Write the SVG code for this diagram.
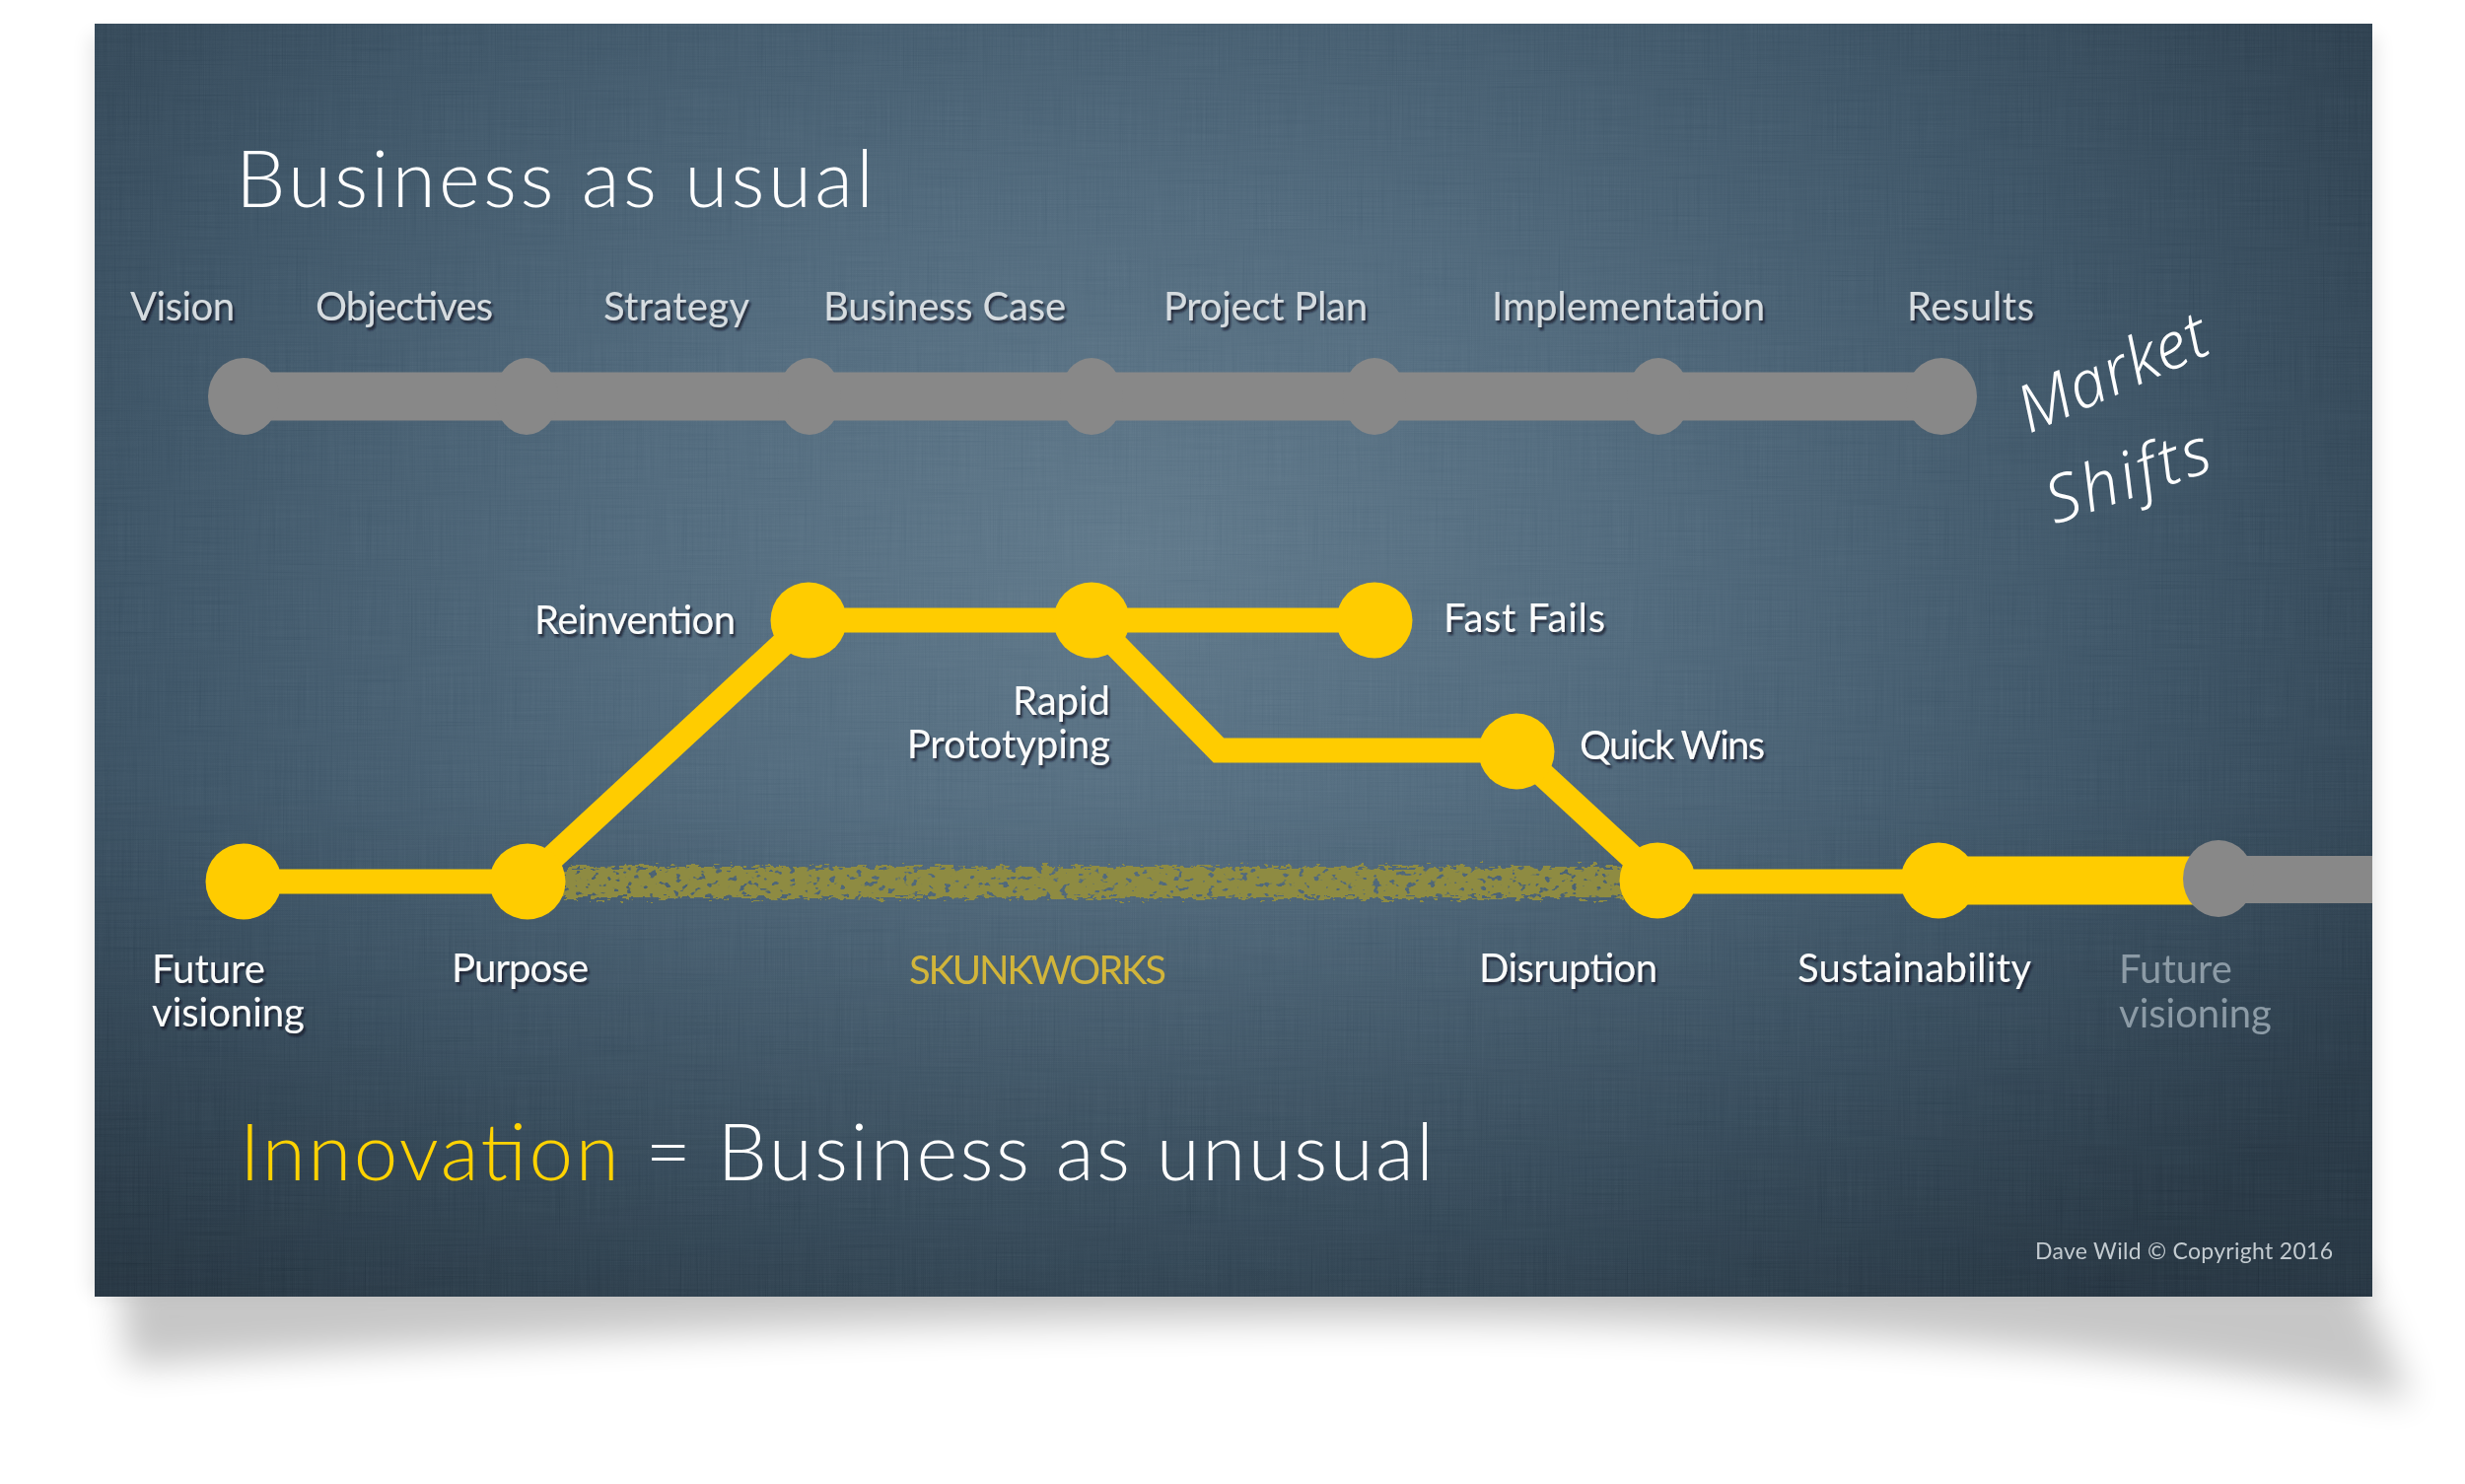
<svg xmlns="http://www.w3.org/2000/svg" width="2500" height="1505" viewBox="0 0 2500 1505">
  <defs>
    <radialGradient id="bg" cx="1150" cy="560" r="1450" gradientUnits="userSpaceOnUse" gradientTransform="translate(1150 560) scale(1 0.7) translate(-1150 -560)">
      <stop offset="0" stop-color="#5c7587"/>
      <stop offset="0.35" stop-color="#4d6679"/>
      <stop offset="0.7" stop-color="#3a5163"/>
      <stop offset="1" stop-color="#2b3d4c"/>
    </radialGradient>
    <linearGradient id="shade" x1="0" y1="0" x2="0" y2="1">
      <stop offset="0" stop-color="#000" stop-opacity="0"/>
      <stop offset="0.6" stop-color="#000" stop-opacity="0"/>
      <stop offset="1" stop-color="#000" stop-opacity="0.18"/>
    </linearGradient>
    <filter id="linen" x="0" y="0" width="100%" height="100%">
      <feTurbulence type="fractalNoise" baseFrequency="0.8 0.012" numOctaves="2" seed="2" result="v"/>
      <feTurbulence type="fractalNoise" baseFrequency="0.012 0.8" numOctaves="2" seed="5" result="h"/>
      <feBlend in="v" in2="h" mode="multiply" result="b"/>
      <feColorMatrix in="b" type="matrix" values="0.33 0.33 0.33 0 0  0.33 0.33 0.33 0 0  0.33 0.33 0.33 0 0  0 0 0 0 1"/>
    </filter>
    <filter id="blurBig" x="-10%" y="-50%" width="120%" height="200%">
      <feGaussianBlur stdDeviation="18"/>
    </filter>
    <filter id="blurSide" x="-10%" y="-10%" width="120%" height="120%">
      <feGaussianBlur stdDeviation="10"/>
    </filter>
    <filter id="shadow" x="-10%" y="-30%" width="120%" height="160%">
      <feDropShadow dx="2" dy="3" stdDeviation="1.2" flood-color="#0b1620" flood-opacity="0.75"/>
    </filter>
    <filter id="rough" x="-3%" y="-60%" width="106%" height="220%">
      <feTurbulence type="fractalNoise" baseFrequency="0.09 0.3" numOctaves="3" seed="3" result="n"/>
      <feDisplacementMap in="SourceGraphic" in2="n" scale="16" xChannelSelector="R" yChannelSelector="G" result="d"/>
      <feTurbulence type="fractalNoise" baseFrequency="0.12 0.18" numOctaves="2" seed="9" result="sp"/>
      <feColorMatrix in="sp" type="matrix" values="0 0 0 0 0  0 0 0 0 0  0 0 0 0 0  -14 0 0 0 9.6" result="mask"/>
      <feComposite in="d" in2="mask" operator="in"/>
    </filter>
    <style>
      .top { font-family: Lato, "Open Sans", sans-serif; font-size: 40px; fill: #d6dce0; }
      .lbl { font-family: Lato, "Open Sans", sans-serif; font-size: 40px; fill: #fafbfb; }
      .dim { font-family: Lato, "Open Sans", sans-serif; font-size: 40px; fill: #8c9ba6; }
      .big { font-family: Lato, "Open Sans", sans-serif; font-size: 80px; font-weight: 300; fill: #ffffff; }
      .hand { font-family: "Noto Sans", sans-serif; font-style: italic; font-weight: 300; font-size: 66px; fill: #ffffff; }
      .ydot { fill: #ffcc00; }
      .gdot { fill: #888888; }
      .yl { stroke: #ffcc00; stroke-width: 25; fill: none; stroke-linejoin: miter; }
      .gl { stroke: #888888; stroke-width: 49; fill: none; }
    </style>
  </defs>

  <!-- page -->
  <rect x="0" y="0" width="2500" height="1505" fill="#ffffff"/>
  <!-- slide shadows -->
  <rect x="92" y="36" width="2318" height="1276" fill="#000" opacity="0.1" filter="url(#blurSide)"/>
  <path d="M 120 1290 L 2390 1290 L 2445 1420 Q 2100 1350 1500 1340 Q 800 1334 130 1385 Z" fill="#000" opacity="0.22" filter="url(#blurBig)"/>

  <!-- slide -->
  <g id="slide">
    <rect x="96" y="24" width="2310" height="1291" fill="url(#bg)"/>
    <rect x="96" y="24" width="2310" height="1291" fill="url(#shade)"/>
    <rect x="96" y="24" width="2310" height="1291" filter="url(#linen)" opacity="0.3" style="mix-blend-mode:soft-light"/>
  </g>

  <!-- titles -->
  <text id="title" class="big" x="239" y="210" textLength="647">Business as usual</text>
  <text id="subtitle" class="big" x="243" y="1197" textLength="1211"><tspan fill="#ffd200">Innovation</tspan> = Business as unusual</text>
  <text id="copyright" x="2366" y="1277" text-anchor="end" font-family="Lato, 'Open Sans', sans-serif" font-size="23" fill="#c3cbd0" textLength="302">Dave Wild © Copyright 2016</text>

  <!-- skunkworks band -->
  <g id="skunkworks">
    <rect x="572" y="879" width="1078" height="32" fill="#8e8b42" filter="url(#rough)"/>
    <text x="922" y="998" font-family="Lato, 'Open Sans', sans-serif" font-size="40" fill="#d2b53a" textLength="261">SKUNKWORKS</text>
  </g>

  <!-- connectors -->
  <g id="connectors">
    <line class="gl" x1="247" y1="402" x2="1969" y2="402"/>
    <line class="yl" x1="247" y1="894" x2="534" y2="894"/>
    <line class="yl" x1="534" y1="894" x2="820" y2="629"/>
    <line class="yl" x1="820" y1="629" x2="1107" y2="629"/>
    <line class="yl" x1="1107" y1="629" x2="1394" y2="629"/>
    <polyline class="yl" points="1107,629 1236,761 1538,761"/>
    <line class="yl" x1="1538" y1="761" x2="1681" y2="893"/>
    <line class="yl" x1="1681" y1="894" x2="1966" y2="894"/>
    <line x1="1966" y1="893" x2="2250" y2="893" stroke="#ffcc00" stroke-width="49"/>
    <line x1="2250" y1="892" x2="2406" y2="892" stroke="#888888" stroke-width="48"/>
  </g>

  <!-- business-as-usual nodes -->
  <g id="vision"><ellipse class="gdot" cx="247" cy="402" rx="36" ry="39"/><text class="top" x="132" y="325" filter="url(#shadow)" textLength="106">Vision</text></g>
  <g id="objectives"><ellipse class="gdot" cx="534" cy="402" rx="32" ry="39"/><text class="top" x="320" y="325" filter="url(#shadow)" textLength="180">Objectives</text></g>
  <g id="strategy"><ellipse class="gdot" cx="821" cy="402" rx="32" ry="39"/><text class="top" x="612" y="325" filter="url(#shadow)" textLength="148">Strategy</text></g>
  <g id="business-case"><ellipse class="gdot" cx="1107" cy="402" rx="32" ry="39"/><text class="top" x="835" y="325" filter="url(#shadow)" textLength="246">Business Case</text></g>
  <g id="project-plan"><ellipse class="gdot" cx="1394" cy="402" rx="32" ry="39"/><text class="top" x="1180" y="325" filter="url(#shadow)" textLength="207">Project Plan</text></g>
  <g id="implementation"><ellipse class="gdot" cx="1682" cy="402" rx="32" ry="39"/><text class="top" x="1513" y="325" filter="url(#shadow)" textLength="277">Implementation</text></g>
  <g id="results"><ellipse class="gdot" cx="1969" cy="402" rx="36" ry="39"/><text class="top" x="1934" y="325" filter="url(#shadow)" textLength="129">Results</text></g>

  <!-- innovation nodes -->
  <g id="future-visioning"><circle class="ydot" cx="247" cy="894" r="38.5"/><text class="lbl" x="154" y="997" filter="url(#shadow)">Future<tspan x="154" y="1041">visioning</tspan></text></g>
  <g id="purpose"><circle class="ydot" cx="535" cy="894" r="38.5"/><text class="lbl" x="458" y="996" filter="url(#shadow)" textLength="139">Purpose</text></g>
  <g id="reinvention"><circle class="ydot" cx="820" cy="629" r="38.5"/><text class="lbl" x="542" y="643" filter="url(#shadow)" textLength="204">Reinvention</text></g>
  <g id="rapid-prototyping"><circle class="ydot" cx="1107" cy="629" r="38.5"/><text class="lbl" x="1126" y="725" text-anchor="end" filter="url(#shadow)">Rapid<tspan x="1126" y="769">Prototyping</tspan></text></g>
  <g id="fast-fails"><circle class="ydot" cx="1394" cy="629" r="38.5"/><text class="lbl" x="1464" y="641" filter="url(#shadow)" textLength="164">Fast Fails</text></g>
  <g id="quick-wins"><circle class="ydot" cx="1538" cy="762" r="38.5"/><text class="lbl" x="1602" y="770" filter="url(#shadow)" textLength="188">Quick Wins</text></g>
  <g id="disruption"><circle class="ydot" cx="1681" cy="893" r="38.5"/><text class="lbl" x="1500" y="996" filter="url(#shadow)" textLength="181">Disruption</text></g>
  <g id="sustainability"><circle class="ydot" cx="1966" cy="893" r="38.5"/><text class="lbl" x="1823" y="996" filter="url(#shadow)" textLength="237">Sustainability</text></g>
  <g id="future-visioning-next"><ellipse class="gdot" cx="2250" cy="891" rx="36" ry="39"/><text class="dim" x="2149" y="997">Future<tspan x="2149" y="1042">visioning</tspan></text></g>

  <!-- handwritten note -->
  <g id="market-shifts">
    <text class="hand" transform="translate(2058 440) rotate(-24)" textLength="205">Market</text>
    <text class="hand" transform="translate(2084 532) rotate(-19)" textLength="172">Shifts</text>
  </g>
</svg>
